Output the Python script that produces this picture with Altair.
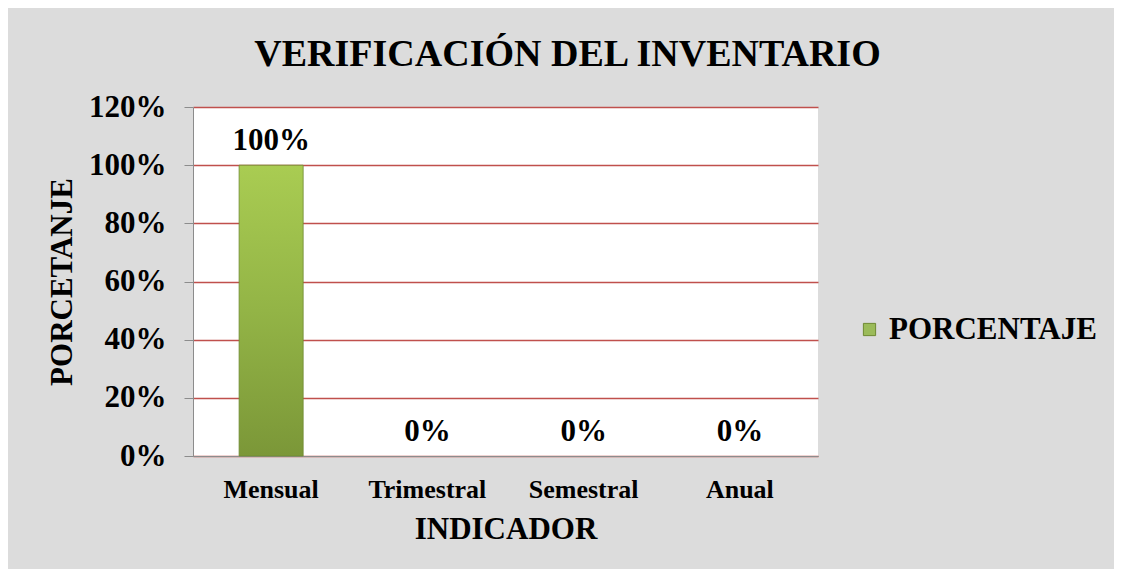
import altair as alt
import pandas as pd

categories = ["Mensual", "Trimestral", "Semestral", "Anual"]
values = [1.0, 0.0, 0.0, 0.0]
series_name = ["PORCENTAJE"] * 4

df = pd.DataFrame({"INDICADOR": categories, "valor": values, "serie": series_name})

FONT = "Liberation Serif"

x_enc = alt.X("INDICADOR:N", sort=categories,
              scale=alt.Scale(paddingInner=0.59, paddingOuter=0.295),
              axis=alt.Axis(title="INDICADOR", labelAngle=0, labelFontSize=26,
                            labelFont=FONT, labelFontWeight="bold", labelColor="black",
                            labelPadding=20, ticks=False, domainColor="#8c8c8c",
                            titleFontSize=31, titleFont=FONT, titleFontWeight="bold",
                            titlePadding=12, titleColor="black", grid=False))
y_enc = alt.Y("valor:Q", scale=alt.Scale(domain=[0, 1.2], nice=False),
              axis=alt.Axis(title="PORCETANJE", format=".0%", values=[0, 0.2, 0.4, 0.6, 0.8, 1.0, 1.2],
                            labelFontSize=31, labelFont=FONT, labelFontWeight="bold",
                            labelColor="black", labelPadding=18, tickSize=9, tickColor="#8c8c8c",
                            domainColor="#8c8c8c", gridColor="#c0504d", gridWidth=1.5,
                            titleFontSize=31, titleFont=FONT, titleFontWeight="bold",
                            titleColor="black", titlePadding=10))

grad = alt.Gradient(gradient="linear",
                    stops=[alt.GradientStop(color="#a9cc52", offset=0),
                           alt.GradientStop(color="#93b446", offset=0.5),
                           alt.GradientStop(color="#7b9738", offset=1)],
                    x1=0, x2=0, y1=0, y2=1)

bars = alt.Chart(df).mark_bar(color=grad).encode(
    x=x_enc, y=y_enc,
    strokeWidth=alt.condition("datum.valor > 0", alt.value(0.8), alt.value(0)),
    stroke=alt.value("#6f8a32"))

legend_layer = alt.Chart(df).mark_square(size=0).encode(
    x=alt.X("INDICADOR:N", sort=categories),
    y="valor:Q",
    color=alt.Color("serie:N", scale=alt.Scale(range=["#9bbb59"]),
                    legend=alt.Legend(title=None, orient="none", legendX=661, legendY=207,
                                      symbolType="square", symbolSize=150,
                                      symbolStrokeColor="#6f8a32", symbolStrokeWidth=1,
                                      labelFontSize=31, labelFont=FONT, labelLimit=400,
                                      labelFontWeight="bold", labelColor="black",
                                      symbolOpacity=1)))

labels = alt.Chart(df).mark_text(baseline="bottom", dy=-8, fontSize=31, font=FONT,
                                 fontWeight="bold", color="black").encode(
    x=alt.X("INDICADOR:N", sort=categories),
    y="valor:Q",
    text=alt.Text("valor:Q", format=".0%"))

chart = alt.layer(bars, legend_layer, labels).properties(
    width=625, height=349,
    title=alt.TitleParams("VERIFICACIÓN DEL INVENTARIO", fontSize=38, font=FONT,
                          fontWeight="bold", color="black", dx=62, offset=17),
    padding={"left": 185, "top": 99, "right": 296, "bottom": 113},
    autosize=alt.AutoSizeParams(type="none"),
    background="#dcdcdc",
).configure_view(fill="white", stroke=None)

chart.save("out.html", embed_options={"renderer": "svg", "actions": False})
